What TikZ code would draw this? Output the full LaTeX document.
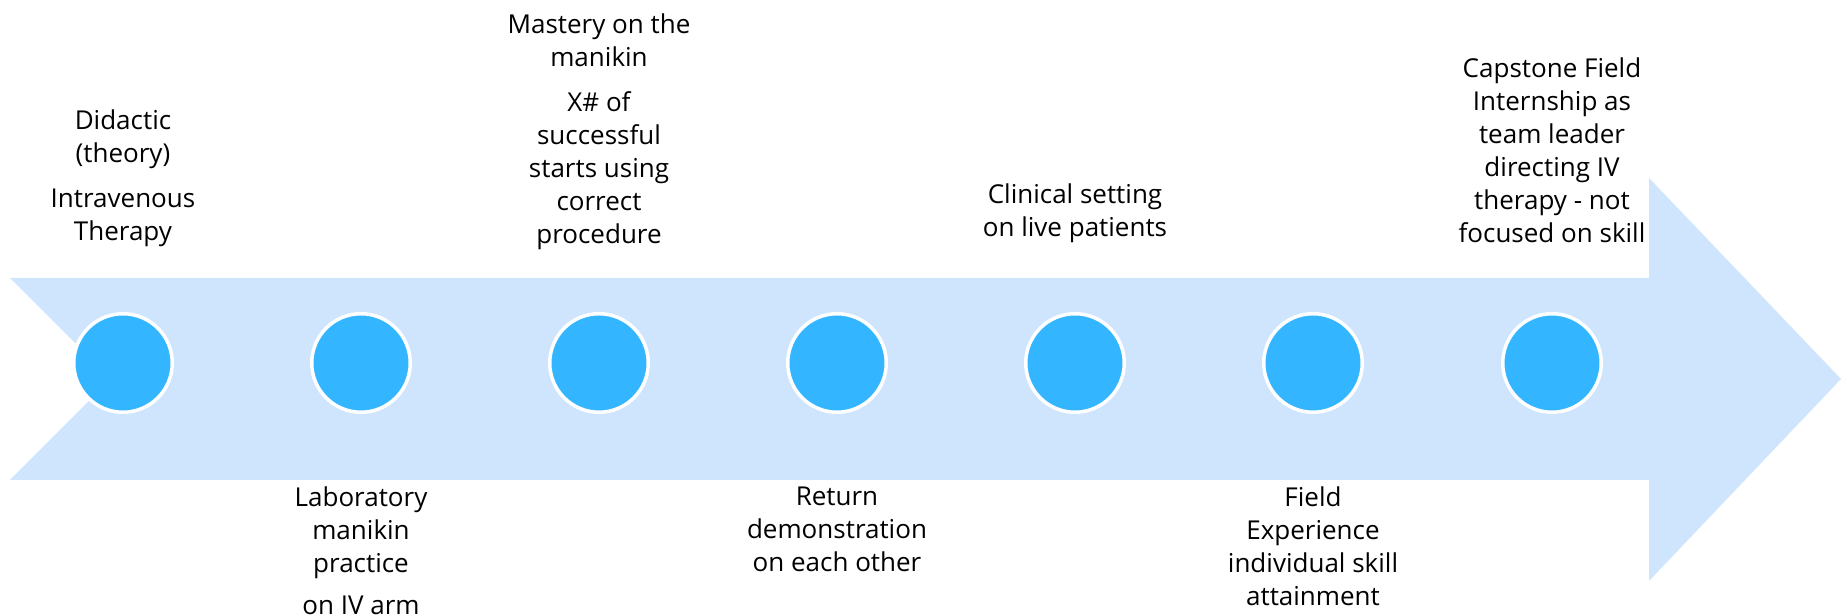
\documentclass[tikz,border=0pt]{standalone}
\usepackage{fontspec}
\setmainfont{Open Sans}
\definecolor{bandblue}{HTML}{CFE5FD}
\definecolor{stageblue}{HTML}{33B6FF}
\begin{document}
\begin{tikzpicture}[line join=round, line cap=round,
		stage/.style={circle,fill=stageblue,draw=white,line width=0.035cm,minimum size=0.985cm,inner sep=0pt},
		label/.style={align=center,inner sep=0pt,font=\fontsize{7.4}{9.4}\selectfont}]
		\useasboundingbox (0,0) rectangle (18.41,6.16);
		\fill[bandblue] (0.10,3.38) -- (16.49,3.38) -- (16.49,4.38) -- (18.41,2.37) -- (16.49,0.35) -- (16.49,1.36) -- (0.10,1.36) -- (1.11,2.37) -- cycle;
		\node[stage] (s1) at (1.23,2.53) {};
		\node[stage] (s2) at (3.61,2.53) {};
		\node[stage] (s3) at (5.99,2.53) {};
		\node[stage] (s4) at (8.37,2.53) {};
		\node[stage] (s5) at (10.75,2.53) {};
		\node[stage] (s6) at (13.13,2.53) {};
		\node[stage] (s7) at (15.52,2.53) {};
		\node[label,anchor=north] (didactic) at (1.23,5.07) {Didactic\\(theory)\\[0.12cm]Intravenous\\Therapy};
		\node[label,anchor=north] (lab) at (3.61,1.30) {Laboratory\\manikin\\practice\\[0.09cm]on IV arm};
		\node[label,anchor=north] (mastery) at (5.99,6.03) {Mastery on the\\manikin\\[0.12cm]X\# of\\successful\\starts using\\correct\\procedure};
		\node[label,anchor=north] (demo) at (8.37,1.30) {Return\\demonstration\\on each other};
		\node[label,anchor=north] (clinical) at (10.75,4.33) {Clinical setting\\on live patients};
		\node[label,anchor=north] (field) at (13.13,1.30) {Field\\Experience\\individual skill\\attainment};
		\node[label,anchor=north] (capstone) at (15.52,5.59) {Capstone Field\\Internship as\\team leader\\directing IV\\therapy - not\\focused on skill};
		\end{tikzpicture}
\end{document}
